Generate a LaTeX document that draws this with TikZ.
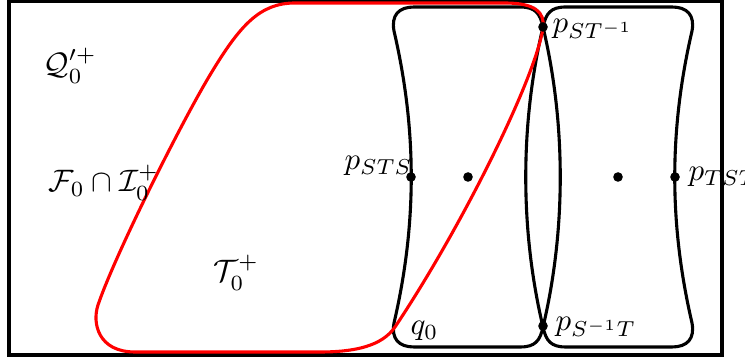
\documentclass[tikz,border=0pt]{standalone}
\usepackage{amsmath}
\begin{document}
\begin{tikzpicture}[x=0.3226pt,y=-0.3226pt,
  blob/.style={line width=1.0pt, black},
  redline/.style={line width=1.0pt, red},
  frame/.style={line width=1.0pt, black},
  dot/.style={circle, fill=black, inner sep=0pt, minimum size=3.1pt},
  lbl/.style={anchor=base west, inner sep=0pt}]
\useasboundingbox (0,0) rectangle (745,360);
\clip (0,0) rectangle (745,360);
\draw[frame] (9,1) rectangle (722,355);
% left blob
\draw[blob] (543,27) .. controls (540,13) and (535,7) .. (520,7) -- (414,7)
  .. controls (399,7) and (391,15) .. (394,31)
  .. controls (417,130) and (417,224) .. (394,323)
  .. controls (391,339) and (399,347) .. (414,347) -- (520,347)
  .. controls (535,347) and (540,341) .. (543,327)
  .. controls (566,230) and (566,124) .. (543,27) -- cycle;
% right blob
\draw[blob] (543,27) .. controls (546,13) and (551,7) .. (566,7) -- (672,7)
  .. controls (687,7) and (695,15) .. (692,31)
  .. controls (669,130) and (669,224) .. (692,323)
  .. controls (695,339) and (687,347) .. (672,347) -- (566,347)
  .. controls (551,347) and (546,341) .. (543,327)
  .. controls (520,230) and (520,124) .. (543,27) -- cycle;
% red region
\draw[redline] (505,3) -- (295,3)
  .. controls (260,3) and (240,25) .. (210,75)
  .. controls (180,125) and (115,255) .. (98,305)
  .. controls (92,323) and (98,352) .. (135,352) -- (320,352)
  .. controls (355,352) and (382,346) .. (395,327)
  .. controls (460,230) and (535,80) .. (543,28)
  .. controls (545,12) and (535,3) .. (505,3) -- cycle;
% dots
\node[dot] (d1) at (411,177) {};
\node[dot] (d2) at (468,177) {};
\node[dot] (d3) at (618,177) {};
\node[dot] (d4) at (675,177) {};
\node[dot] (dtop) at (543,27) {};
\node[dot] (dbot) at (543,326) {};
% labels
\node[lbl] (qlab) at (43,75) {$\mathcal{Q}_0^{\prime +}$};
\node[lbl] (flab) at (48,192) {$\mathcal{F}_0\cap\mathcal{I}_0^+$};
\node[lbl] (tlab) at (213,282) {$\mathcal{T}_0^+$};
\node[lbl] (psts) at (344,170) {$p_{STS}$};
\node[lbl] (pstinv) at (552,33) {$p_{ST^{-1}}$};
\node[lbl] (psinvt) at (555,331) {$p_{S^{-1}T}$};
\node[lbl] (qzero) at (410,335) {$q_0$};
\node[lbl] (ptst) at (688,181) {$p_{TST}$};
\end{tikzpicture}
\end{document}
